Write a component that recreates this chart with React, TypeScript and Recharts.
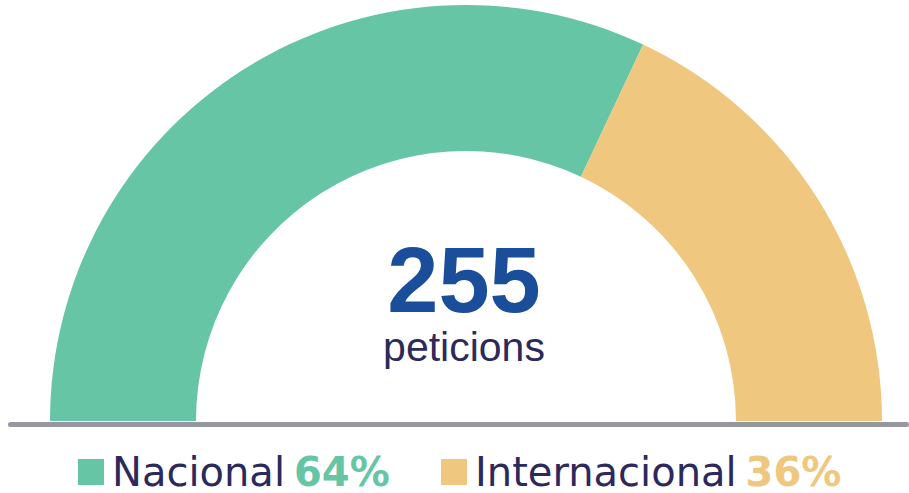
import { Label, Legend, Pie, PieChart, Cell } from 'recharts';

const categories = ['Nacional', 'Internacional'];
const shares = [64, 36];
const colors = ['#66C5A5', '#EFC77E'];
const totalRequests = 255;
const totalLabel = 'peticions';

const CX = 466;
const CY = 421;

const data = categories.map((name, i) => ({ name, value: shares[i], color: colors[i] }));

function CenterLabel() {
  return (
    <g>
      <text x={CX - 2} y={CY - 109} textAnchor="middle" fill="#1A4E9A" fontFamily="'Liberation Sans', Arial, sans-serif" fontWeight={700} fontSize={92}>
        {totalRequests}
      </text>
      <text x={CX - 2} y={CY - 60} textAnchor="middle" fill="#2B2A5B" fontFamily="'Liberation Sans', Arial, sans-serif" fontSize={41}>
        {totalLabel}
      </text>
    </g>
  );
}

function renderLegend() {
  return (
    <div style={{ display: 'flex', alignItems: 'center', height: 46, paddingLeft: 78, fontFamily: "'DejaVu Sans', sans-serif", fontSize: 40 }}>
      {data.map((d, i) => (
        <div key={d.name} style={{ display: 'flex', alignItems: 'center', width: i === 0 ? 363 : 'auto', lineHeight: '46px', whiteSpace: 'nowrap' }}>
          <span style={{ display: 'inline-block', width: 26, height: 26, background: d.color, marginRight: 8 }} />
          <span style={{ color: '#2B2A5B' }}>{d.name}</span>
          <span style={{ color: d.color, fontWeight: 700, marginLeft: 9 }}>{d.value}%</span>
        </div>
      ))}
    </div>
  );
}

export default function App() {
  return (
    <div style={{ position: 'absolute', left: 0, top: 0, width: 909, height: 493, background: '#fff' }}>
      <PieChart width={909} height={493} margin={{ top: 0, right: 0, bottom: 0, left: 0 }}>
        <Pie
          data={data}
          dataKey="value"
          nameKey="name"
          cx={CX}
          cy={CY}
          startAngle={180}
          endAngle={0}
          innerRadius={270}
          outerRadius={416}
          stroke="none"
          isAnimationActive={false}
        >
          {data.map((d) => (
            <Cell key={d.name} fill={d.color} />
          ))}
          <Label content={CenterLabel} position="center" />
        </Pie>
        <Legend content={renderLegend} wrapperStyle={{ position: 'absolute', left: 0, top: 449, width: 909, height: 46 }} />
      </PieChart>
      <div style={{ position: 'absolute', left: 8, top: 422, width: 901, height: 5, borderRadius: 3, background: '#97979F' }} />
    </div>
  );
}
